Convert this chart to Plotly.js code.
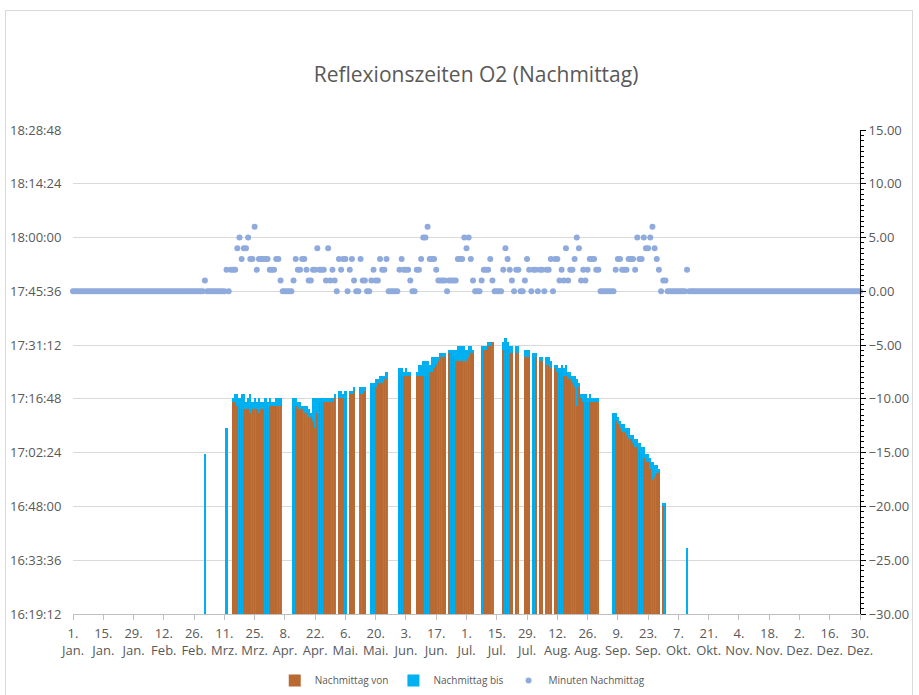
<!DOCTYPE html>
<html>
<head>
<meta charset="utf-8">
<script src="https://cdn.plot.ly/plotly-3.0.1.min.js"></script>
<style>
  html, body { margin: 0; padding: 0; background: #fff; }
  #chart { width: 919px; height: 695px; }
  #frame { position: absolute; left: 5px; top: 10px; width: 906px; height: 700px; border: 1px solid #d9d9d9; pointer-events: none; }
</style>
</head>
<body>
<div id="chart"></div>
<div id="frame"></div>
<script>
// Tage als Index ab 1. Jan. (Schaltjahr, 366 Tage)
const firstDay = 61; // erster Tag der Reihen "von" / "bis"

// Nachmittag von (orange), ein Wert pro Tag ab firstDay
const von = [
  null, null, null, null, null, null, null, null, null, null, null, null, null,
  "17:16", "17:16", "17:15", "17:15", "17:15", "17:14", "17:14", "17:14", "17:13", "17:14", "17:14", "17:14",
  "17:13", "17:14", "17:14", "17:14", "17:14", "17:15", "17:15", "17:15", "17:15", "17:15", "17:15",
  null, null, null, null, null,
  "17:15", "17:15", "17:14", "17:14", "17:14", "17:13", "17:13", "17:12", "17:12", "17:11",
  "17:09", "17:13", "17:16", "17:16", "17:16", "17:16", "17:16", "17:16", "17:16", "17:17",
  null,
  "17:17", "17:17", "17:17", "17:17",
  null,
  "17:18", "17:18", "17:19",
  null, null,
  "17:18", "17:18", "17:19",
  null, null,
  "17:20", "17:20", "17:20", "17:21", "17:21", "17:21", "17:22", "17:22",
  null, null, null, null, null,
  "17:23", "17:23", "17:23", "17:23", "17:23", "17:23",
  null, null,
  "17:23", "17:23", "17:23", "17:23", "17:23", "17:23", "17:24", "17:24", "17:25", "17:26", "17:27", "17:28", "17:28", "17:28",
  null,
  "17:29", "17:29", "17:28", "17:27", "17:27", "17:27", "17:27", "17:27", "17:27", "17:28", "17:29", "17:29",
  null, null, null,
  "17:30", "17:30", "17:30", "17:31", "17:31", "17:32",
  null, null, null, null,
  "17:30", "17:30", "17:30", "17:29", "17:29",
  null,
  "17:29", "17:29",
  null, null,
  "17:28", "17:28", "17:28",
  null,
  "17:28", "17:28",
  null,
  "17:27", "17:27",
  null,
  "17:26", "17:26", "17:25",
  null,
  "17:25", "17:24", "17:24", "17:24", "17:23", "17:23", "17:22", "17:22", "17:21", "17:20", "17:15",
  "17:20", "17:17", "17:16", "17:16", "17:16", "17:16", "17:16", "17:16", "17:16", "17:16",
  null, null, null, null, null, null,
  "17:12", "17:11", "17:10", "17:09", "17:08", "17:08", "17:07", "17:06", "17:06", "17:05", "17:04",
  "17:04", "17:03", "17:02", "17:01", "17:00", "17:00", "16:58", "16:55", "16:56", "16:57", "16:57",
  null,
  "16:48", "16:48",
  null, null, null, null, null, null, null, null, null,
  null
];

// Nachmittag bis (blau)
const bis = [
  "17:02", null, null, null, null, null, null, null, null, null, "17:09", null, null,
  "17:17", "17:18", "17:18", "17:17", "17:18", "17:18", "17:16", "17:17", "17:18", "17:16", "17:17", "17:16",
  "17:17", "17:16", "17:16", "17:17", "17:16", "17:17", "17:16", "17:16", "17:17", "17:17", "17:17",
  null, null, null, null, null,
  "17:17", "17:17", "17:16", "17:16", "17:15", "17:15", "17:15", "17:14", "17:13", "17:17",
  "17:17", "17:17", "17:17", "17:17", "17:17", "17:17", "17:17", "17:17", "17:17", "17:18",
  null,
  "17:19", "17:19", "17:18", "17:19",
  null,
  "17:19", "17:19", "17:20",
  null, null,
  "17:20", "17:20", "17:20",
  null, null,
  "17:21", "17:21", "17:22", "17:22", "17:23", "17:23", "17:23", "17:24",
  null, null, null, null, null,
  "17:25", "17:25", "17:24", "17:25", "17:24", "17:24",
  null, null,
  "17:24", "17:26", "17:26", "17:27", "17:27", "17:27", "17:26", "17:28", "17:28", "17:28", "17:28", "17:29", "17:29", "17:29",
  null,
  "17:30", "17:30", "17:30", "17:30", "17:31", "17:31", "17:31", "17:31", "17:30", "17:31", "17:31", "17:30",
  null, null, null,
  "17:31", "17:31", "17:31", "17:32", "17:32", "17:32",
  null, null, null, null,
  "17:32", "17:33", "17:32", "17:31", "17:31",
  null,
  "17:31", "17:31",
  null, null,
  "17:30", "17:30", "17:30",
  null,
  "17:29", "17:29",
  null,
  "17:28", "17:28",
  null,
  "17:28", "17:28", "17:27",
  null,
  "17:26", "17:26", "17:25", "17:26", "17:25", "17:26", "17:24", "17:24", "17:23", "17:23", "17:22",
  "17:21", "17:18", "17:18", "17:18", "17:17", "17:18", "17:17", "17:17", "17:17", "17:17",
  null, null, null, null, null, null,
  "17:13", "17:13", "17:12", "17:11", "17:10", "17:10", "17:09", "17:09", "17:07", "17:07", "17:06",
  "17:06", "17:05", "17:04", "17:04", "17:02", "17:02", "17:01", "17:00", "16:59", "16:59", "16:58",
  null,
  "16:49", "16:49",
  null, null, null, null, null, null, null, null, null,
  "16:37"
];

// Minuten Nachmittag (rechte Achse), ganzes Jahr, 14 Tage pro Zeile
const minuten = [
  0, 0, 0, 0, 0, 0, 0, 0, 0, 0, 0, 0, 0, 0,
  0, 0, 0, 0, 0, 0, 0, 0, 0, 0, 0, 0, 0, 0,
  0, 0, 0, 0, 0, 0, 0, 0, 0, 0, 0, 0, 0, 0,
  0, 0, 0, 0, 0, 0, 0, 0, 0, 0, 0, 0, 0, 0,
  0, 0, 0, 0, 0, 1, 0, 0, 0, 0, 0, 0, 0, 0,
  0, 2, 0, 2, 2, 2, 4, 5, 3, 4, 4, 5, 3, 3,
  6, 2, 3, 3, 3, 3, 3, 2, 2, 2, 3, 3, 1, 0,
  0, 0, 0, 0, 1, 3, 2, 2, 3, 3, 2, 1, 1, 2,
  2, 4, 2, 2, 2, 1, 4, 1, 2, 1, 0, 3, 2, 3,
  3, 0, 2, 3, 1, 0, 0, 3, 1, 1, 0, 0, 1, 2,
  1, 1, 3, 2, 2, 3, 0, 0, 0, 0, 0, 2, 3, 2,
  2, 2, 1, 0, 0, 2, 2, 3, 5, 5, 6, 3, 3, 3,
  2, 1, 1, 1, 1, 0, 1, 1, 1, 1, 3, 3, 3, 5,
  4, 5, 3, 1, 0, 0, 0, 1, 2, 2, 2, 3, 1, 0,
  0, 0, 0, 2, 4, 3, 2, 1, 0, 2, 2, 0, 0, 1,
  3, 2, 0, 2, 2, 0, 2, 2, 0, 2, 2, 3, 0, 3,
  3, 1, 2, 1, 4, 1, 2, 2, 3, 5, 4, 1, 2, 1,
  2, 3, 3, 3, 2, 2, 0, 0, 0, 0, 0, 0, 0, 2,
  3, 3, 2, 2, 2, 3, 3, 3, 2, 5, 3, 3, 5, 4,
  4, 5, 6, 4, 3, 2, 0, 1, 1, 0, 0, 0, 0, 0,
  0, 0, 0, 0, 2, 0, 0, 0, 0, 0, 0, 0, 0, 0,
  0, 0, 0, 0, 0, 0, 0, 0, 0, 0, 0, 0, 0, 0,
  0, 0, 0, 0, 0, 0, 0, 0, 0, 0, 0, 0, 0, 0,
  0, 0, 0, 0, 0, 0, 0, 0, 0, 0, 0, 0, 0, 0,
  0, 0, 0, 0, 0, 0, 0, 0, 0, 0, 0, 0, 0, 0,
  0, 0, 0, 0, 0, 0, 0, 0, 0, 0, 0, 0, 0, 0,
  0, 0
];

const xTickLabels = [
  "1.<br>Jan.", "15.<br>Jan.", "29.<br>Jan.", "12.<br>Feb.", "26.<br>Feb.", "11.<br>Mrz.",
  "25.<br>Mrz.", "8.<br>Apr.", "22.<br>Apr.", "6.<br>Mai.", "20.<br>Mai.", "3.<br>Jun.",
  "17.<br>Jun.", "1.<br>Jul.", "15.<br>Jul.", "29.<br>Jul.", "12.<br>Aug.", "26.<br>Aug.",
  "9.<br>Sep.", "23.<br>Sep.", "7.<br>Okt.", "21.<br>Okt.", "4.<br>Nov.", "18.<br>Nov.",
  "2.<br>Dez.", "16.<br>Dez.", "30.<br>Dez."
];
const yTickLabels = [
  "16:19:12", "16:33:36", "16:48:00", "17:02:24", "17:16:48",
  "17:31:12", "17:45:36", "18:00:00", "18:14:24", "18:28:48"
];

// "hh:mm" oder "hh:mm:ss" -> Sekunden seit Mitternacht
function toSec(t) {
  if (t === null) return null;
  const p = t.split(":").map(Number);
  return p[0] * 3600 + p[1] * 60 + (p[2] || 0);
}

const days = von.map((_, i) => firstDay + i);
const allDays = minuten.map((_, i) => i);
const yTickVals = yTickLabels.map(toSec);

const grey = "#595959";
const font = "'Open Sans', 'Liberation Sans', sans-serif";

// "bis" zuerst (liegt hinten), "von" schmaler darüber
const data = [
  {
    type: "bar",
    name: "Nachmittag bis",
    legendrank: 2,
    x: days,
    y: bis.map(toSec),
    width: 1,
    marker: { color: "#00B0F0" },
  },
  {
    type: "bar",
    name: "Nachmittag von",
    legendrank: 1,
    x: days,
    y: von.map(toSec),
    width: 0.3,
    marker: { color: "#B86A32" },
  },
  {
    type: "scatter",
    mode: "markers",
    name: "Minuten Nachmittag",
    legendrank: 3,
    x: allDays,
    y: minuten,
    yaxis: "y2",
    cliponaxis: false,
    marker: { color: "#8FAADC", size: 6 },
  },
];

const layout = {
  width: 919,
  height: 695,
  margin: { l: 73, r: 59, t: 130, b: 81 },
  paper_bgcolor: "#fff",
  plot_bgcolor: "#fff",
  font: { family: font, color: grey, size: 13 },
  title: {
    text: "Reflexionszeiten O2 (Nachmittag)",
    font: { family: font, size: 21, color: grey },
    x: 0.518,
    xref: "container",
    y: 0.892,
    yref: "container",
    yanchor: "middle",
  },
  barmode: "overlay",
  bargap: 0,
  bargroupgap: 0,
  showlegend: true,
  legend: {
    orientation: "h",
    x: 0.503,
    xref: "container",
    xanchor: "center",
    y: 0.021,
    yref: "container",
    yanchor: "middle",
    font: { size: 10, color: grey },
  },
  xaxis: {
    range: [0, 364],
    automargin: false,
    tickmode: "array",
    tickvals: xTickLabels.map((_, i) => i * 14),
    ticktext: xTickLabels,
    ticks: "outside",
    ticklen: 5,
    tickcolor: "#bfbfbf",
    ticklabelstandoff: 2,
    showline: true,
    linecolor: "#bfbfbf",
    showgrid: false,
    zeroline: false,
    tickangle: 0,
    tickfont: { size: 13, color: grey },
  },
  yaxis: {
    range: [yTickVals[0], yTickVals[yTickVals.length - 1]],
    automargin: false,
    tickmode: "array",
    tickvals: yTickVals,
    ticktext: yTickLabels,
    showgrid: true,
    gridcolor: "#d9d9d9",
    zeroline: false,
    showline: false,
    ticks: "outside",
    ticklen: 8,
    tickcolor: "rgba(0,0,0,0)",
    tickfont: { size: 13, color: grey },
  },
  yaxis2: {
    overlaying: "y",
    side: "right",
    automargin: false,
    range: [-30, 15],
    dtick: 5,
    tickformat: ".2f",
    showgrid: false,
    zeroline: false,
    showline: true,
    linecolor: "#000",
    linewidth: 1,
    ticks: "outside",
    ticklen: 5,
    tickcolor: "#000",
    minor: { ticks: "outside", ticklen: 3, dtick: 0.5, tickcolor: "#000" },
    tickfont: { size: 13, color: grey },
  },
};

Plotly.newPlot("chart", data, layout, { displayModeBar: false });
</script>
</body>
</html>
